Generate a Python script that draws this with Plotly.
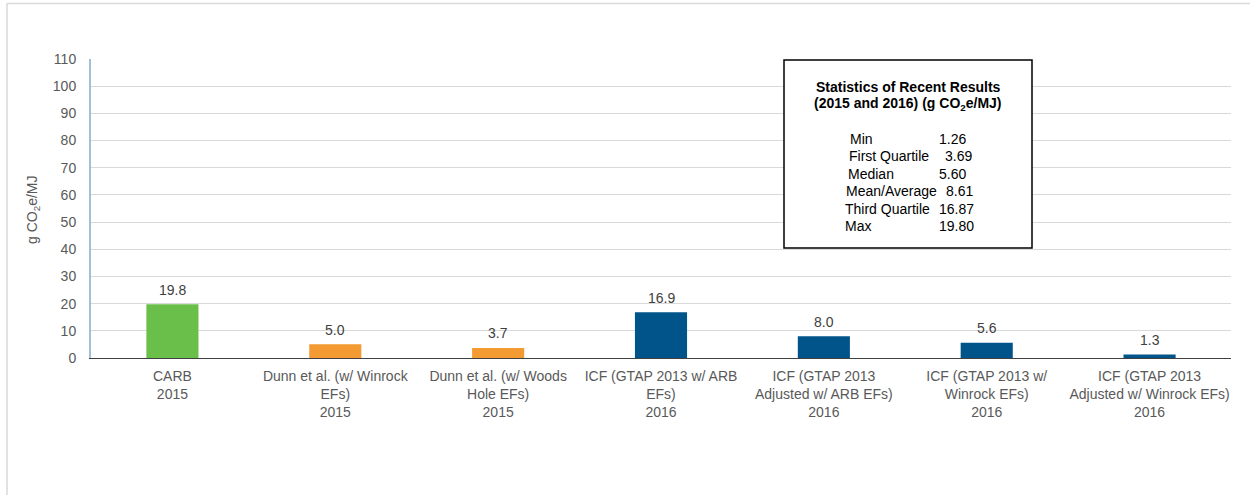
import plotly.graph_objects as go

categories = [
    "CARB<br>2015",
    "Dunn et al. (w/ Winrock<br>EFs)<br>2015",
    "Dunn et al. (w/ Woods<br>Hole EFs)<br>2015",
    "ICF (GTAP 2013 w/ ARB<br>EFs)<br>2016",
    "ICF (GTAP 2013<br>Adjusted w/ ARB EFs)<br>2016",
    "ICF (GTAP 2013 w/<br>Winrock EFs)<br>2016",
    "ICF (GTAP 2013<br>Adjusted w/ Winrock EFs)<br>2016",
]
values = [19.80, 5.02, 3.69, 16.87, 8.03, 5.60, 1.26]
bar_colors = ["#6ABF4B", "#F39A33", "#F39A33", "#01548A", "#01548A", "#01548A", "#01548A"]

stat_labels = ["Min", "First Quartile", "Median", "Mean/Average", "Third Quartile", "Max"]
stat_values = ["1.26", "3.69", "5.60", "8.61", "16.87", "19.80"]

y_ticks = list(range(0, 111, 10))

W, H = 1250, 495
L, R, T, B = 91, 1231, 59, 358
FS = 14


def px(x):
    return (x - L) / (R - L)


def py(y):
    return (B - y) / (B - T)


fig = go.Figure()
fig.add_trace(go.Bar(
    x=categories,
    y=values,
    marker=dict(color=bar_colors, line=dict(width=0)),
    width=0.32,
    hoverinfo="x+y",
))

shapes = [
    # outer frame
    dict(type="line", xref="paper", yref="paper", x0=px(7), x1=px(1260), y0=py(3.5), y1=py(3.5),
         line=dict(color="#D9D9D9", width=1.5)),
    dict(type="line", xref="paper", yref="paper", x0=px(7), x1=px(7), y0=py(3.5), y1=py(505),
         line=dict(color="#D9D9D9", width=1.5)),
    # stats box
    dict(type="rect", xref="paper", yref="paper", x0=px(784), x1=px(1032), y0=py(248), y1=py(60),
         line=dict(color="#000000", width=1.5), fillcolor="white", layer="above"),
]

annotations = []
# data labels above bars
for c, v in zip(categories, values):
    annotations.append(dict(xref="x", yref="y", x=c, y=v, text=f"{v:.1f}",
                            xanchor="center", yanchor="middle", yshift=14.5,
                            showarrow=False, font=dict(family="Arial", size=FS, color="#404040")))

annotations += [
    dict(xref="paper", yref="paper", x=px(33), y=py(210), text="g CO<sub>2</sub>e/MJ",
         xanchor="center", yanchor="middle",
         textangle=-90, showarrow=False, font=dict(family="Arial", size=FS, color="#595959")),
    dict(xref="paper", yref="paper", x=px(908), y=py(87), text="<b>Statistics of Recent Results</b>",
         xanchor="center", yanchor="middle",
         showarrow=False, font=dict(family="Arial", size=FS, color="#000000")),
    dict(xref="paper", yref="paper", x=px(908), y=py(104), text="<b>(2015 and 2016) (g CO<sub>2</sub>e/MJ)</b>",
         xanchor="center", yanchor="middle",
         showarrow=False, font=dict(family="Arial", size=FS, color="#000000")),
]

row_y = [138.5, 156, 173.5, 191, 208.5, 226]
label_x = [848, 846.5, 845.5, 844, 843, 843]
value_x = [937, 942.5, 937, 944, 936.5, 936.5]
for lab, val, yy, lx, vx in zip(stat_labels, stat_values, row_y, label_x, value_x):
    annotations.append(dict(xref="paper", yref="paper", x=px(lx), y=py(yy), text=lab,
                            xanchor="left", yanchor="middle",
                            showarrow=False, font=dict(family="Arial", size=FS, color="#000000")))
    annotations.append(dict(xref="paper", yref="paper", x=px(vx), y=py(yy), text=val,
                            xanchor="left", yanchor="middle",
                            showarrow=False, font=dict(family="Arial", size=FS, color="#000000")))

fig.update_layout(
    width=W, height=H,
    margin=dict(l=L, r=W - R, t=T, b=H - B, pad=0),
    paper_bgcolor="white", plot_bgcolor="white",
    showlegend=False,
    shapes=shapes,
    annotations=annotations,
    font=dict(family="Arial", size=FS, color="#595959"),
    xaxis=dict(
        showline=True, linecolor="#404040", linewidth=1,
        showgrid=False, ticks="", ticklabelstandoff=5,
        tickfont=dict(family="Arial", size=FS, color="#595959"),
        fixedrange=True,
    ),
    yaxis=dict(
        range=[0, 110], tickvals=y_ticks,
        showline=True, linecolor="#A3BFD3", linewidth=2,
        showgrid=True, gridcolor="#D9D9D9", gridwidth=1,
        zeroline=False, ticks="", ticklabelstandoff=10,
        tickfont=dict(family="Arial", size=FS, color="#595959"),
        fixedrange=True,
    ),
)

fig.write_html("out.html", config={"displayModeBar": False},
               post_script="document.body.style.margin='0';document.body.style.overflow='hidden';")
